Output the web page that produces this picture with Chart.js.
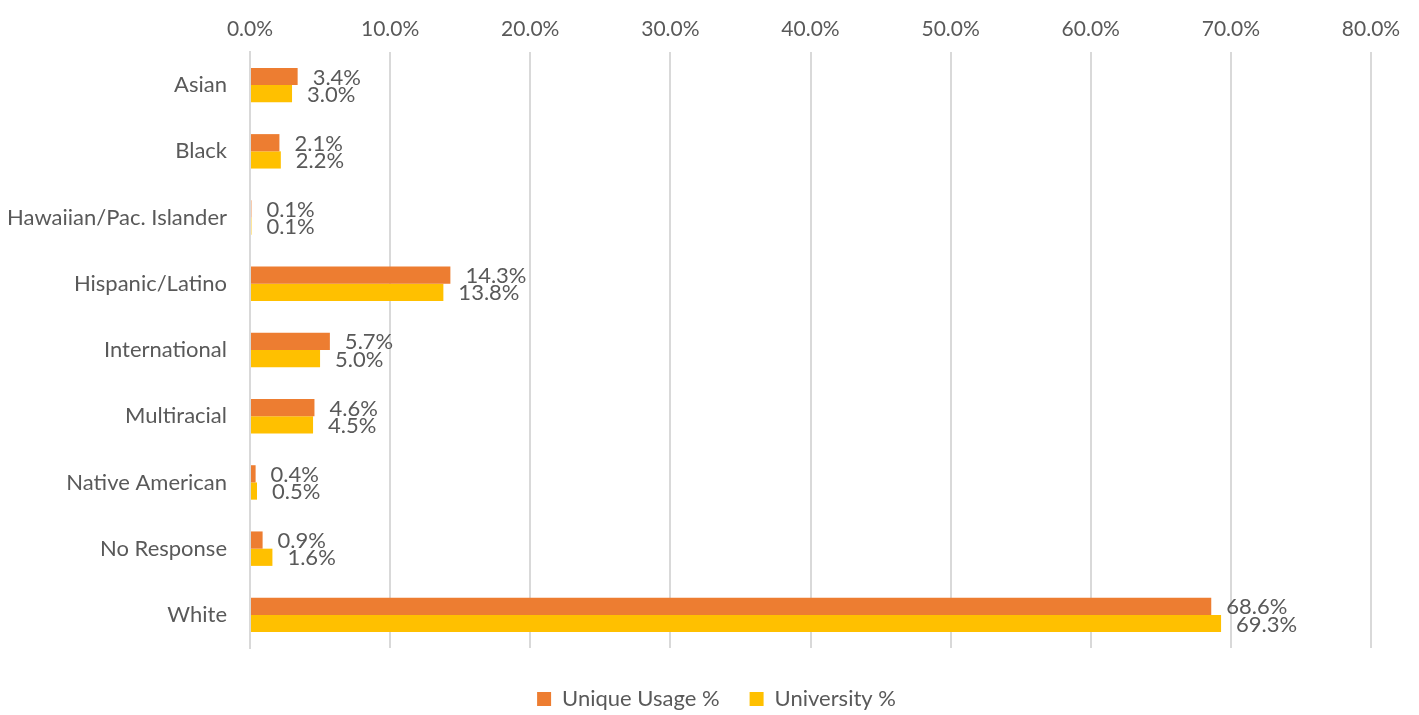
<!DOCTYPE html>
<html>
<head>
<meta charset="utf-8">
<script src="https://cdn.jsdelivr.net/npm/chart.js@4"></script>
<style>
  html, body { margin: 0; padding: 0; background: #fff; }
  #wrap { width: 1419px; height: 715px; }
</style>
</head>
<body>
<div id="wrap"><canvas id="raceChart"></canvas></div>
<script>
const categories = ['Asian', 'Black', 'Hawaiian/Pac. Islander', 'Hispanic/Latino', 'International', 'Multiracial', 'Native American', 'No Response', 'White'];
const uniqueUsage = [3.4, 2.1, 0.1, 14.3, 5.7, 4.6, 0.4, 0.9, 68.6];
const universityPct = [3.0, 2.2, 0.1, 13.8, 5.0, 4.5, 0.5, 1.6, 69.3];
const xTicks = [0, 10, 20, 30, 40, 50, 60, 70, 80];

const fontFamily = 'Lato, "Open Sans", sans-serif';
const textColor = '#595959';

// value labels at the end of each bar
const barLabels = {
    id: 'barLabels',
    afterDatasetsDraw(chart) {
        const ctx = chart.ctx;
        ctx.save();
        ctx.font = '22px ' + fontFamily;
        ctx.fillStyle = textColor;
        ctx.textAlign = 'left';
        ctx.textBaseline = 'middle';
        chart.data.datasets.forEach((ds, i) => {
            chart.getDatasetMeta(i).data.forEach((bar, j) => {
                ctx.fillText(ds.data[j].toFixed(1) + '%', bar.x + 15, bar.y + 1);
            });
        });
        ctx.restore();
    }
};

// center the legend on the whole canvas and push it down a bit
const legendCenter = {
    id: 'legendCenter',
    afterLayout(chart) {
        const lg = chart.legend;
        lg.left = 0;
        lg.right = chart.width + 14;
        lg.width = lg.right - lg.left;
        lg.top += 10;
        lg.bottom += 10;
    }
};

const ctx = document.getElementById('raceChart').getContext('2d');
new Chart(ctx, {
    type: 'bar',
    data: {
        labels: categories,
        datasets: [{
            label: 'Unique Usage %',
            data: uniqueUsage,
            backgroundColor: '#ED7D31',
            categoryPercentage: 0.52,
            barPercentage: 1.0
        }, {
            label: 'University %',
            data: universityPct,
            backgroundColor: '#FFC000',
            categoryPercentage: 0.52,
            barPercentage: 1.0
        }]
    },
    options: {
        indexAxis: 'y',
        responsive: true,
        maintainAspectRatio: false,
        animation: false,
        layout: { padding: { left: 0, right: 48, top: 0, bottom: 5 } },
        plugins: {
            legend: {
                position: 'bottom',
                labels: {
                    font: { family: fontFamily, size: 22 },
                    color: textColor,
                    boxWidth: 14,
                    boxHeight: 14,
                    padding: 30
                }
            },
            tooltip: { enabled: false }
        },
        scales: {
            x: {
                position: 'top',
                min: 0,
                max: 80,
                afterBuildTicks: scale => { scale.ticks = xTicks.map(v => ({ value: v })); },
                afterFit: scale => { scale.height = 52; },
                ticks: {
                    callback: v => v.toFixed(1) + '%',
                    font: { family: fontFamily, size: 21 },
                    color: textColor,
                    padding: 10,
                    maxRotation: 0
                },
                grid: { color: '#d9d9d9', lineWidth: 2, drawTicks: false },
                border: { display: false }
            },
            y: {
                afterFit: scale => { scale.width = 250; },
                ticks: {
                    font: { family: fontFamily, size: 22 },
                    color: textColor,
                    padding: 23
                },
                grid: { display: false, drawTicks: false },
                border: { color: '#d9d9d9', width: 2 }
            }
        }
    },
    plugins: [barLabels, legendCenter]
});
</script>
</body>
</html>
